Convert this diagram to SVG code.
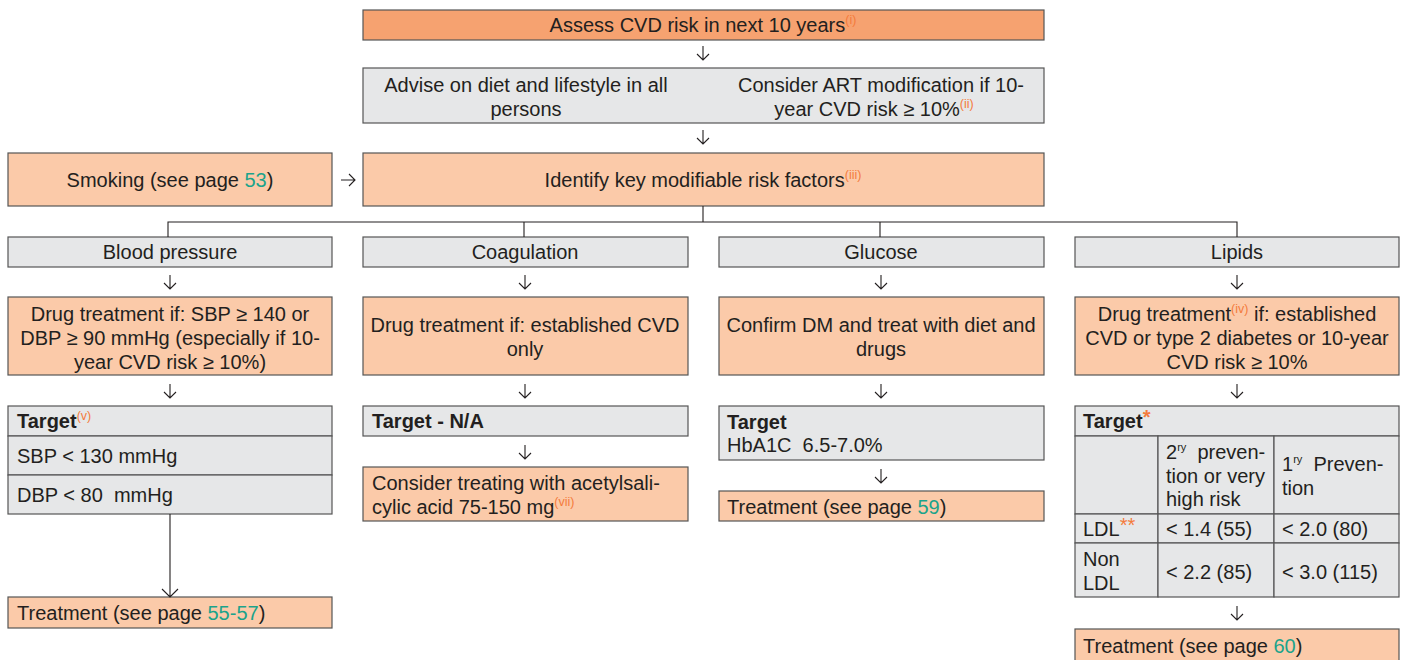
<svg xmlns="http://www.w3.org/2000/svg" width="1410" height="660" viewBox="0 0 1410 660">
<style>
text{font-family:"Liberation Sans",Arial,sans-serif;font-size:20px;fill:#231f20}
.c{text-anchor:middle}
.b{font-weight:bold}
.sup{font-size:12.5px;fill:#f47b3c;font-weight:normal}
.ry{font-size:11px;fill:#231f20}
.ast{fill:#f47b3c}
.lnk{fill:#1ba38b}
.top{fill:#f6a270;stroke:#555;stroke-width:1.2}
.pk{fill:#fbcaa9;stroke:#555;stroke-width:1.2}
.gy{fill:#e6e7e8;stroke:#555;stroke-width:1.2}
.ln{fill:none;stroke:#231f20;stroke-width:1.1}
</style>
<defs>
<path id="dn" d="M0,-7 V7 M-6,1 L0,7 L6,1" class="ln"/>
</defs>

<g id="n-assess">
<rect class="top" x="363" y="10" width="681" height="30"/>
<text class="c" x="703" y="32">Assess CVD risk in next 10 years<tspan class="sup" dy="-8">(i)</tspan></text>
</g>

<g id="n-advise">
<rect class="gy" x="363" y="68" width="681" height="55"/>
<text class="c" x="526" y="92">Advise on diet and lifestyle in all</text>
<text class="c" x="526" y="116">persons</text>
<text class="c" x="881" y="92">Consider ART modification if 10-</text>
<text class="c" x="874" y="116">year CVD risk ≥ 10%<tspan class="sup" dy="-8">(ii)</tspan></text>
</g>

<g id="n-smoking">
<rect class="pk" x="8" y="153" width="324" height="53"/>
<text class="c" x="170" y="187">Smoking (see page <tspan class="lnk">53</tspan>)</text>
</g>

<g id="n-identify">
<rect class="pk" x="363" y="153" width="681" height="53"/>
<text class="c" x="703" y="187">Identify key modifiable risk factors<tspan class="sup" dy="-8">(iii)</tspan></text>
</g>

<g id="n-bp">
<rect class="gy" x="8" y="237" width="324" height="30"/>
<text class="c" x="170" y="259">Blood pressure</text>
</g>
<g id="n-coag">
<rect class="gy" x="363" y="237" width="325" height="30"/>
<text class="c" x="525" y="259">Coagulation</text>
</g>
<g id="n-glucose">
<rect class="gy" x="719" y="237" width="325" height="30"/>
<text class="c" x="881" y="259">Glucose</text>
</g>
<g id="n-lipids">
<rect class="gy" x="1075" y="237" width="324" height="30"/>
<text class="c" x="1237" y="259">Lipids</text>
</g>

<g id="n-bp-drug">
<rect class="pk" x="8" y="297" width="324" height="78"/>
<text class="c" x="170" y="321">Drug treatment if: SBP ≥ 140 or</text>
<text class="c" x="170" y="345">DBP ≥ 90 mmHg (especially if 10-</text>
<text class="c" x="170" y="369">year CVD risk ≥ 10%)</text>
</g>
<g id="n-coag-drug">
<rect class="pk" x="363" y="297" width="325" height="78"/>
<text class="c" x="525" y="332">Drug treatment if: established CVD</text>
<text class="c" x="525" y="356">only</text>
</g>
<g id="n-glu-drug">
<rect class="pk" x="719" y="297" width="325" height="78"/>
<text class="c" x="881" y="332">Confirm DM and treat with diet and</text>
<text class="c" x="881" y="356">drugs</text>
</g>
<g id="n-lip-drug">
<rect class="pk" x="1075" y="297" width="324" height="78"/>
<text class="c" x="1237" y="321">Drug treatment<tspan class="sup" dy="-8">(iv)</tspan><tspan dy="8"> if: established</tspan></text>
<text class="c" x="1237" y="345">CVD or type 2 diabetes or 10-year</text>
<text class="c" x="1237" y="369">CVD risk ≥ 10%</text>
</g>

<g id="n-bp-target">
<rect class="gy" x="8" y="406" width="324" height="30"/>
<rect class="gy" x="8" y="436" width="324" height="39"/>
<rect class="gy" x="8" y="475" width="324" height="39"/>
<text class="b" x="17" y="428">Target<tspan class="sup" dy="-8">(v)</tspan></text>
<text x="17" y="463">SBP &lt; 130 mmHg</text>
<text x="17" y="502" xml:space="preserve">DBP &lt; 80  mmHg</text>
</g>
<g id="n-bp-treat">
<rect class="pk" x="8" y="597" width="324" height="31"/>
<text x="17" y="620">Treatment (see page <tspan class="lnk">55-57</tspan>)</text>
</g>

<g id="n-coag-target">
<rect class="gy" x="363" y="406" width="325" height="30"/>
<text class="b" x="372" y="428">Target - N/A</text>
</g>
<g id="n-coag-asa">
<rect class="pk" x="363" y="467" width="325" height="54"/>
<text x="372" y="490">Consider treating with acetylsali-</text>
<text x="372" y="514">cylic acid 75-150 mg<tspan class="sup" dy="-8">(vii)</tspan></text>
</g>

<g id="n-glu-target">
<rect class="gy" x="719" y="406" width="325" height="54"/>
<text class="b" x="727" y="429">Target</text>
<text x="727" y="452" xml:space="preserve">HbA1C  6.5-7.0%</text>
</g>
<g id="n-glu-treat">
<rect class="pk" x="719" y="491" width="325" height="30"/>
<text x="727" y="514">Treatment (see page <tspan class="lnk">59</tspan>)</text>
</g>

<g id="n-lip-target">
<rect class="gy" x="1075" y="406" width="324" height="30"/>
<rect class="gy" x="1075" y="436" width="83" height="78"/>
<rect class="gy" x="1158" y="436" width="116" height="78"/>
<rect class="gy" x="1274" y="436" width="125" height="78"/>
<rect class="gy" x="1075" y="514" width="83" height="29"/>
<rect class="gy" x="1158" y="514" width="116" height="29"/>
<rect class="gy" x="1274" y="514" width="125" height="29"/>
<rect class="gy" x="1075" y="543" width="83" height="54"/>
<rect class="gy" x="1158" y="543" width="116" height="54"/>
<rect class="gy" x="1274" y="543" width="125" height="54"/>
<text class="b" x="1083" y="428">Target<tspan class="ast" dy="-4">*</tspan></text>
<text x="1166" y="459">2<tspan class="ry" dy="-8">ry</tspan><tspan dy="8" xml:space="preserve">  preven-</tspan></text>
<text x="1166" y="483">tion or very</text>
<text x="1166" y="506">high risk</text>
<text x="1282" y="471">1<tspan class="ry" dy="-8">ry</tspan><tspan dy="8" xml:space="preserve">  Preven-</tspan></text>
<text x="1282" y="495">tion</text>
<text x="1083" y="536">LDL<tspan class="ast" dy="-4">**</tspan></text>
<text x="1166" y="536">&lt; 1.4 (55)</text>
<text x="1282" y="536">&lt; 2.0 (80)</text>
<text x="1083" y="566">Non</text>
<text x="1083" y="590">LDL</text>
<text x="1166" y="579">&lt; 2.2 (85)</text>
<text x="1282" y="579">&lt; 3.0 (115)</text>
</g>
<g id="n-lip-treat">
<rect class="pk" x="1075" y="629" width="324" height="34"/>
<text x="1083" y="653">Treatment (see page <tspan class="lnk">60</tspan>)</text>
</g>

<g id="connectors">
<use href="#dn" x="703" y="53"/>
<use href="#dn" x="703" y="137"/>
<path class="ln" d="M341,180 H355 M349,174 L355,180 L349,186"/>
<path class="ln" d="M703,206 V222 M168,237 V222 H1237 V237 M524,222 V237 M880,222 V237"/>
<use href="#dn" x="170" y="282"/>
<use href="#dn" x="525" y="282"/>
<use href="#dn" x="881" y="282"/>
<use href="#dn" x="1237" y="282"/>
<use href="#dn" x="170" y="391"/>
<use href="#dn" x="525" y="391"/>
<use href="#dn" x="881" y="391"/>
<use href="#dn" x="1237" y="391"/>
<use href="#dn" x="525" y="452"/>
<use href="#dn" x="881" y="476"/>
<use href="#dn" x="1237" y="613"/>
<path class="ln" d="M170,514 V597 M162,589 L170,597 L178,589"/>
</g>
</svg>
